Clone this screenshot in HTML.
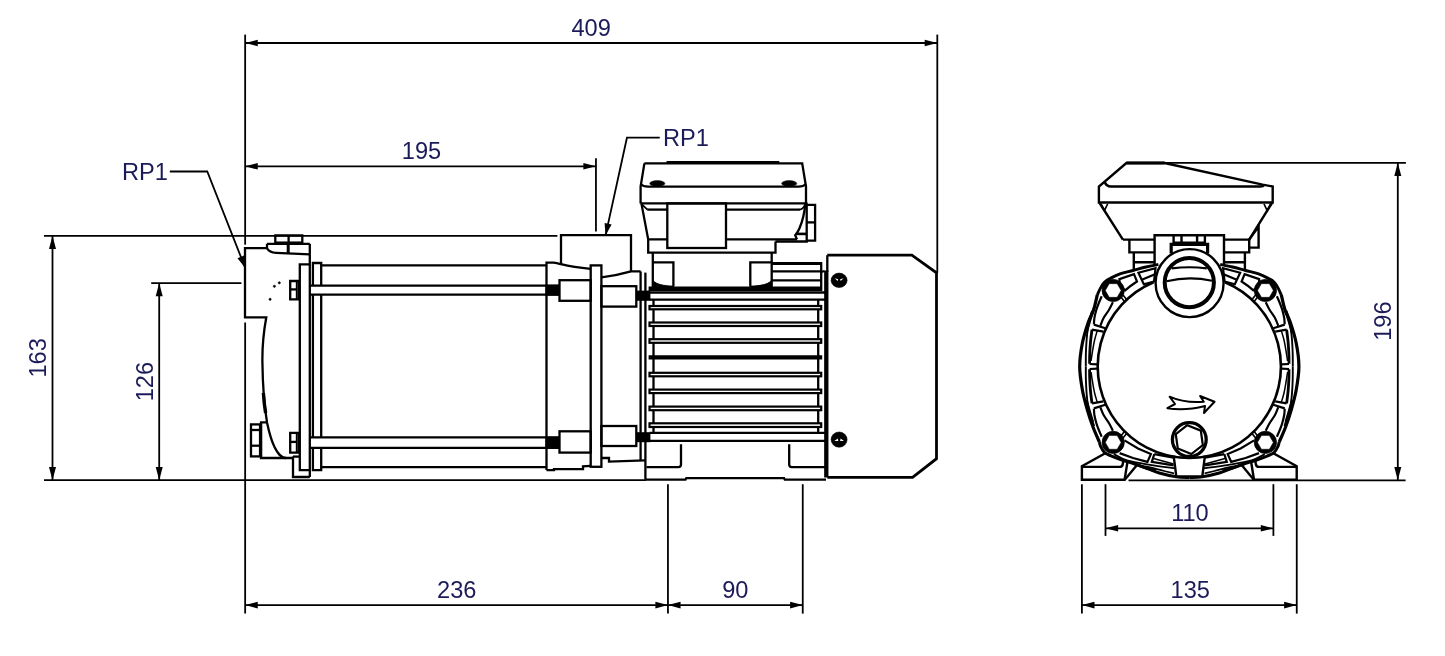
<!DOCTYPE html>
<html lang="en">
<head>
<meta charset="utf-8">
<title>Pump dimensional drawing</title>
<style>
html,body{margin:0;padding:0;background:#fff;}
body{width:1445px;height:656px;overflow:hidden;font-family:"Liberation Sans",sans-serif;}
svg{display:block;will-change:transform;}
svg line,svg path,svg rect,svg circle,svg ellipse,svg polyline{stroke:#000;fill:none;stroke-linecap:butt;stroke-linejoin:miter;}
svg .ah{fill:#000;stroke:none;}
svg .rj{stroke-linejoin:round;stroke-linecap:round;}
svg .bk{fill:#000;}
svg .wh{fill:#fff;}
svg text{font-family:"Liberation Sans",sans-serif;font-size:23.6px;fill:#1c1b5a;stroke:none;}
</style>
</head>
<body>
<svg width="1445" height="656" viewBox="0 0 1445 656">
<rect x="0" y="0" width="1445" height="656" style="fill:#fff;stroke:none"/>
<g id="dimensions" stroke-width="1.8">
<line x1="245.15" y1="34.6" x2="245.15" y2="244.7"/>
<line x1="937.3" y1="34.6" x2="937.3" y2="272.7"/>
<line x1="245.15" y1="43" x2="937.3" y2="43"/>
<polygon class="ah" points="245.15,43 257.75,39.7 257.75,46.3"/>
<polygon class="ah" points="937.3,43 924.7,46.3 924.7,39.7"/>
<text x="591.1" y="36.1" text-anchor="middle">409</text>
<line x1="245.15" y1="166.3" x2="595.95" y2="166.3"/>
<line x1="595.95" y1="158.3" x2="595.95" y2="231.6"/>
<polygon class="ah" points="245.15,166.3 257.75,163 257.75,169.6"/>
<polygon class="ah" points="595.95,166.3 583.35,169.6 583.35,163"/>
<text x="421.55" y="159.1" text-anchor="middle">195</text>
<line x1="245.15" y1="322.4" x2="245.15" y2="613.6"/>
<line x1="667.95" y1="484.2" x2="667.95" y2="613.6"/>
<line x1="802.75" y1="484.2" x2="802.75" y2="613.6"/>
<line x1="245.15" y1="605.1" x2="802.75" y2="605.1"/>
<polygon class="ah" points="245.15,605.1 257.75,601.8 257.75,608.4"/>
<polygon class="ah" points="667.95,605.1 655.35,608.4 655.35,601.8"/>
<polygon class="ah" points="667.95,605.1 680.55,601.8 680.55,608.4"/>
<polygon class="ah" points="802.75,605.1 790.15,608.4 790.15,601.8"/>
<text x="456.75" y="598.4" text-anchor="middle">236</text>
<text x="735.25" y="598.4" text-anchor="middle">90</text>
<line x1="1105.5" y1="484.2" x2="1105.5" y2="535.9"/>
<line x1="1273.4" y1="484.2" x2="1273.4" y2="535.9"/>
<line x1="1105.5" y1="528.3" x2="1273.4" y2="528.3"/>
<polygon class="ah" points="1105.5,528.3 1118.1,525 1118.1,531.6"/>
<polygon class="ah" points="1273.4,528.3 1260.8,531.6 1260.8,525"/>
<text x="1189.95" y="521.4" text-anchor="middle">110</text>
<line x1="1081.9" y1="484.2" x2="1081.9" y2="613.6"/>
<line x1="1296.75" y1="484.2" x2="1296.75" y2="613.6"/>
<line x1="1081.9" y1="605.1" x2="1296.75" y2="605.1"/>
<polygon class="ah" points="1081.9,605.1 1094.5,601.8 1094.5,608.4"/>
<polygon class="ah" points="1296.75,605.1 1284.15,608.4 1284.15,601.8"/>
<text x="1190.25" y="598.4" text-anchor="middle">135</text>
<line x1="44" y1="235.8" x2="557.4" y2="235.8"/>
<line x1="44" y1="480.2" x2="646" y2="480.2"/>
<line x1="52.5" y1="235.8" x2="52.5" y2="480.2"/>
<polygon class="ah" points="52.5,235.8 56,249 49,249"/>
<polygon class="ah" points="52.5,480.2 49,467 56,467"/>
<text x="45.95" y="357.9" text-anchor="middle" transform="rotate(-90 45.95 357.9)">163</text>
<line x1="151.2" y1="283.1" x2="241.4" y2="283.1"/>
<line x1="159.2" y1="283.1" x2="159.2" y2="480.2"/>
<polygon class="ah" points="159.2,283.1 162.7,296.3 155.7,296.3"/>
<polygon class="ah" points="159.2,480.2 155.7,467 162.7,467"/>
<text x="152.65" y="381.6" text-anchor="middle" transform="rotate(-90 152.65 381.6)">126</text>
<line x1="1164" y1="162.8" x2="1405.9" y2="162.8"/>
<line x1="1128.5" y1="480.3" x2="1405.6" y2="480.3"/>
<line x1="1397.8" y1="162.8" x2="1397.8" y2="480.3"/>
<polygon class="ah" points="1397.8,162.8 1401.3,176 1394.3,176"/>
<polygon class="ah" points="1397.8,480.3 1394.3,467.1 1401.3,467.1"/>
<text x="1391.45" y="321.1" text-anchor="middle" transform="rotate(-90 1391.45 321.1)">196</text>
<text x="144.85" y="179.5" text-anchor="middle">RP1</text>
<path d="M169.85 171.5 L207.25 171.5 L245.3 268.1"/>
<polygon class="ah" points="245.3,268.1 237.47,258.32 244.14,255.62"/>
<text x="685.95" y="145.7" text-anchor="middle">RP1</text>
<path d="M659.75 137.7 L626.95 137.7 L605.55 235.4"/>
<polygon class="ah" points="605.55,235.4 604.6,222.91 611.63,224.45"/>
</g>
<g id="side-view" stroke-width="2.3">
<path d="M267 248.2 L245 248.2 L245 317.3 L266.3 317.3 C263.6 332 262.2 347 262.4 362 C262.6 380 263.5 401 267.1 423 C269.5 434 271.5 441 274.5 447 C277.5 453 280.5 458 286 458 L293 458"/>
<path d="M263.4 393 C263.8 400 264.6 407 265.6 413" stroke-width="3.4"/>
<rect x="275.3" y="235.4" width="27" height="7.2"/>
<line x1="288.6" y1="235.2" x2="288.6" y2="242.6"/>
<path d="M267 243.8 L309.8 243.8 M267 243.8 L267 248.2 C268.5 251 271.5 252.6 276.2 252.9 L309.8 254.3"/>
<line x1="288.2" y1="243.8" x2="288.2" y2="253.5" stroke-width="3"/>
<line x1="309.8" y1="243.8" x2="309.8" y2="477"/>
<rect x="251" y="424.4" width="10" height="32"/>
<line x1="251" y1="430" x2="261" y2="430"/>
<line x1="251" y1="445.7" x2="261" y2="445.7"/>
<path d="M266.3 422.3 L261 422.3 L261 458 L286 458"/>
<line x1="260.2" y1="424" x2="260.2" y2="457" stroke-width="2.6"/>
<path d="M309.8 264.3 L299.8 264.3 L299.8 470.2 L309.8 470.2"/>
<path d="M312.9 470.2 L312.9 263 L321.2 263 L321.2 470.2 Z"/>
<path d="M293 456.6 L293 477 L309.8 477"/>
<line x1="293" y1="456.6" x2="299.8" y2="456.6"/>
<path d="M299.8 281 L290.2 281 L290.2 299.3 L299.8 299.3"/>
<line x1="296.6" y1="281" x2="296.6" y2="299.3" stroke-width="1.6"/>
<line x1="290.2" y1="289.42" x2="296.6" y2="289.42"/>
<line x1="298.6" y1="281" x2="298.6" y2="299.3" stroke-width="2.6"/>
<path d="M299.8 432.8 L290.2 432.8 L290.2 452.6 L299.8 452.6"/>
<line x1="296.6" y1="432.8" x2="296.6" y2="452.6" stroke-width="1.6"/>
<line x1="290.2" y1="441.91" x2="296.6" y2="441.91"/>
<line x1="298.6" y1="432.8" x2="298.6" y2="452.6" stroke-width="2.6"/>
<rect x="311" y="285.6" width="235.5" height="9.1" style="fill:#fff;stroke:none"/>
<line x1="309.8" y1="285.6" x2="546.5" y2="285.6"/>
<line x1="309.8" y1="294.7" x2="546.5" y2="294.7"/>
<rect x="545.4" y="284.4" width="14.1" height="11.5" style="fill:#000;stroke:none"/>
<rect x="311" y="437.4" width="235.5" height="10.4" style="fill:#fff;stroke:none"/>
<line x1="309.8" y1="437.4" x2="546.5" y2="437.4"/>
<line x1="309.8" y1="447.8" x2="546.5" y2="447.8"/>
<rect x="545.4" y="436.2" width="14.1" height="12.8" style="fill:#000;stroke:none"/>
<line x1="321.2" y1="265.4" x2="546.5" y2="265.4"/>
<line x1="321.2" y1="467.1" x2="546.5" y2="467.1"/>
<circle cx="274.4" cy="286.3" r="1.1" class="bk" stroke-width="0.6"/>
<circle cx="279.3" cy="282.8" r="1.1" class="bk" stroke-width="0.6"/>
<circle cx="270.1" cy="299.3" r="1.1" class="bk" stroke-width="0.6"/>
<path d="M546.5 470.1 L546.5 262.7 L553.5 262.7 C557 262.9 559 263.6 561 264.2 C570 266.6 580 268 590.7 268.8"/>
<path d="M561 264 L561 235.2 L631 235.2 L631 271.4"/>
<rect x="590.7" y="265.4" width="10.7" height="201.4"/>
<path d="M601.4 277.3 C612 276.2 622 274 631 271.4 L640.6 271.4"/>
<path d="M546.5 470.1 L554 470.1 L554 469.2 L583 469.2 L583 466.3 L590.7 465.9"/>
<path d="M601.4 458 L609 458 L609 461.6 L645.2 460.3"/>
<rect x="559.5" y="280.2" width="31.2" height="20.6"/>
<rect x="559.5" y="431.3" width="31.2" height="21.3"/>
<rect x="601.4" y="286.2" width="34.9" height="20.4"/>
<rect x="601.4" y="426" width="34.9" height="20"/>
<rect x="636" y="290.6" width="14.4" height="10.2" style="fill:#000;stroke:none"/>
<rect x="636" y="432.2" width="14.4" height="10" style="fill:#000;stroke:none"/>
<line x1="640.6" y1="271.4" x2="640.6" y2="460.4"/>
<line x1="645.4" y1="272.6" x2="645.4" y2="479.6"/>
<line x1="649.7" y1="292.5" x2="825.8" y2="292.5"/>
<line x1="649.7" y1="299.6" x2="825.8" y2="299.6"/>
<line x1="649.7" y1="432.9" x2="825.8" y2="432.9"/>
<line x1="649.7" y1="440.9" x2="825.8" y2="440.9"/>
<line x1="653.5" y1="299.6" x2="653.5" y2="432.9"/>
<line x1="818.2" y1="299.6" x2="818.2" y2="432.9"/>
<rect x="649.5" y="306" width="171.7" height="3.3" stroke-width="2.2" style="fill:#fff"/>
<rect x="649.5" y="322.5" width="171.7" height="3.5" stroke-width="2.2" style="fill:#fff"/>
<rect x="649.5" y="339.2" width="171.7" height="3.6" stroke-width="2.2" style="fill:#fff"/>
<line x1="648.6" y1="357.3" x2="822.2" y2="357.3" stroke-width="4.2"/>
<rect x="649.5" y="372.8" width="171.7" height="3.5" stroke-width="2.2" style="fill:#fff"/>
<rect x="649.5" y="389.6" width="171.7" height="3.5" stroke-width="2.2" style="fill:#fff"/>
<rect x="649.5" y="406.6" width="171.7" height="3.6" stroke-width="2.2" style="fill:#fff"/>
<rect x="649.5" y="423.3" width="171.7" height="3.7" stroke-width="2.2" style="fill:#fff"/>
<line x1="826.3" y1="270.6" x2="826.3" y2="477.4" stroke-width="4.3"/>
<line x1="648.6" y1="288.7" x2="822" y2="288.7" stroke-width="4.4"/>
<line x1="771.7" y1="263.6" x2="822" y2="263.6" stroke-width="3"/>
<line x1="771.7" y1="271.3" x2="821.2" y2="271.3"/>
<line x1="771.7" y1="280.4" x2="821.2" y2="280.4"/>
<line x1="821.2" y1="262.3" x2="821.2" y2="290.8"/>
<path d="M821.2 272 L824.6 271 "/>
<path d="M645.9 479.6 L685.5 479.6 L686.3 478.2 L784 478.2 L784.8 479.6 L826 479.6"/>
<path d="M646.5 467.1 L678.5 467.1 Q681 467.1 681 464.6 L681 444.2"/>
<path d="M825 467.1 L791.7 467.1 Q789.2 467.1 789.2 464.6 L789.2 444.2"/>
<path d="M827.3 255.2 L911.9 255.2 L936.5 272.8 L936.5 458.7 L912.6 477.4 L827.3 477.4" stroke-width="2.8"/>
<line x1="827.3" y1="255.2" x2="827.3" y2="272"/>
<ellipse cx="839.1" cy="280.3" rx="8" ry="7.2" stroke-width="0.6" style="fill:#000"/>
<path d="M834.7 278.3 L838.2 279.2 L837.6 281 Z M843.6 278.3 L840.1 279.2 L840.7 281 Z" style="fill:#fff;stroke:none"/>
<ellipse cx="839.1" cy="439.6" rx="8" ry="7.6" stroke-width="0.6" style="fill:#000"/>
<path d="M834.4 440.9 L837.8 438.4 L838.3 440.9 Z M844 440.9 L840.6 438.4 L840.1 440.9 Z" style="fill:#fff;stroke:none"/>
<path d="M644.4 163.4 L802.2 163.4 L806 186.6 L806 203.4 M644.4 163.4 L640.6 186.6 L640.6 203.4"/>
<line x1="666.5" y1="162.6" x2="779.3" y2="162.6" stroke-width="3"/>
<path d="M640.6 184 C642.5 186 645 186.6 648 186.6 L798.6 186.6 C801.6 186.6 804 186 806 184"/>
<ellipse cx="657.3" cy="183.5" rx="7.6" ry="2.9" stroke-width="0.5" style="fill:#000"/>
<ellipse cx="789.2" cy="183.5" rx="7.6" ry="2.9" stroke-width="0.5" style="fill:#000"/>
<line x1="640.6" y1="203.4" x2="807.5" y2="203.4"/>
<path d="M641.4 203.4 L648.2 239.4 L667.3 239.4"/>
<path d="M641.6 204.2 L647.4 209.6" stroke-width="1.8"/>
<line x1="647.2" y1="209.6" x2="667.3" y2="209.6"/>
<line x1="726" y1="209.6" x2="800" y2="209.6"/>
<path d="M805.2 204.2 Q803.6 208.6 799.8 209.6" stroke-width="1.8"/>
<rect x="667.3" y="203.4" width="58.7" height="44.6"/>
<path d="M726 239.4 L797 239.4"/>
<path d="M805.4 203.4 C804.6 212 802.6 221 799.6 228 C798.4 231 797 233.4 795.2 235.2 L797 239.4"/>
<line x1="796.5" y1="233.9" x2="806.7" y2="233.9" stroke-width="2.6"/>
<path d="M806.7 203.4 L806.7 241.5 L775.5 241.5"/>
<path d="M806.7 204.9 L815.1 204.9 L815.1 240.7 L806.7 240.7"/>
<line x1="806.7" y1="222.4" x2="815.1" y2="222.4"/>
<path d="M648.2 239.4 L648.2 252.6 L775.5 252.6 L775.5 241.5"/>
<line x1="652.8" y1="252.6" x2="652.8" y2="287"/>
<line x1="771.7" y1="252.6" x2="771.7" y2="287"/>
<path d="M652.8 262.3 L673.4 262.3 L673.4 286.4"/>
<path d="M771.7 262.3 L750.3 262.3 L750.3 286.4"/>
<path d="M653.4 281 C657 284.4 663 285.8 673.4 286.2 L673.4 287.4 L653.4 287.4 Z" stroke-width="1" style="fill:#000"/>
<path d="M771.1 281 C767.5 284.4 761.5 285.8 750.3 286.2 L750.3 287.4 L771.1 287.4 Z" stroke-width="1" style="fill:#000"/>
</g>
<g id="front-view" stroke-width="2.4">
<path d="M1153.51 282.18 A91.6 91.6 0 1 0 1225.09 282.18" stroke-width="2.6"/>
<path d="M1097.3 294.9 C1096.68 297.42 1095.08 305.48 1093.6 310 C1092.12 314.52 1090.27 316.5 1088.4 322 C1086.53 327.5 1083.85 335.58 1082.4 343 C1080.95 350.42 1079.7 358.67 1079.7 366.5 C1079.7 374.33 1081.12 382.75 1082.4 390 C1083.68 397.25 1085.63 403.83 1087.4 410 C1089.17 416.17 1091 421.67 1093 427 C1095 432.33 1098.33 439.5 1099.4 442" stroke-width="3.2"/>
<path d="M1094.2 307 C1093.57 308.83 1091.45 314.5 1090.4 318 C1089.35 321.5 1088.53 324.33 1087.9 328 C1087.27 331.67 1086.93 335.83 1086.6 340 C1086.27 344.17 1086.03 348.58 1085.9 353 C1085.77 357.42 1085.82 364.25 1085.8 366.5" stroke-width="1.9"/>
<path d="M1092.6 311 C1092 313 1090.07 319.33 1089 323 C1087.93 326.67 1086.67 331.33 1086.2 333" stroke-width="3"/>
<path d="M1094.2 426 C1093.57 424.17 1091.45 418.5 1090.4 415 C1089.35 411.5 1088.53 408.67 1087.9 405 C1087.27 401.33 1086.93 397.17 1086.6 393 C1086.27 388.83 1086.03 384.42 1085.9 380 C1085.77 375.58 1085.82 368.75 1085.8 366.5" stroke-width="1.9"/>
<path d="M1092.6 422 C1092 420 1090.07 413.67 1089 410 C1087.93 406.33 1086.67 401.67 1086.2 400" stroke-width="3"/>
<path d="M1097.3 295 C1097.78 293.93 1099.02 290.73 1100.2 288.6 C1101.38 286.47 1102.67 283.93 1104.4 282.2 C1106.13 280.47 1108 279.58 1110.6 278.2 C1113.2 276.82 1116.27 275.18 1120 273.9 C1123.73 272.62 1128.67 271.65 1133 270.5 C1137.33 269.35 1141.77 268.02 1146 267 C1150.23 265.98 1156.33 264.83 1158.4 264.4" stroke-width="2.9"/>
<path d="M1099.4 442 C1099.6 442.73 1099.73 444.63 1100.6 446.4 C1101.47 448.17 1102.87 451.03 1104.6 452.6 C1106.33 454.17 1108.1 454.57 1111 455.8 C1113.9 457.03 1117.62 458.5 1122 460 C1126.38 461.5 1132.82 463.27 1137.3 464.8 C1141.78 466.33 1145.23 467.83 1148.9 469.2 C1152.57 470.57 1154.73 471.73 1159.3 473 C1163.87 474.27 1171.3 476.03 1176.3 476.8 C1181.3 477.57 1187.13 477.47 1189.3 477.6" stroke-width="3"/>
<path d="M1131 462.4 C1132.5 462.92 1136.83 464.67 1140 465.5 C1143.17 466.33 1145.98 466.48 1150 467.4 C1154.02 468.32 1160.1 470 1164.1 471 C1168.1 472 1172.35 473 1174 473.4" stroke-width="1.7"/>
<path d="M1134 463.6 C1135.83 464.27 1141.33 466.37 1145 467.6 C1148.67 468.83 1154.17 470.43 1156 471" stroke-width="3"/>
<path d="M1113.8 454.1 C1116 455.15 1120.97 458.62 1127 460.4 C1133.03 462.18 1142 463.5 1150 464.8 C1158 466.1 1170.83 467.63 1175 468.2" stroke-width="1.8"/>
<path d="M1101.7 296.3 C1101.15 297.58 1099.3 301.72 1098.4 304 C1097.5 306.28 1096.97 307.67 1096.3 310 C1095.63 312.33 1094.8 315.6 1094.4 318 C1094 320.4 1093.98 323.33 1093.9 324.4" stroke-width="2.2"/>
<path d="M1093.9 324.6 L1105.3 328.3" stroke-width="2.2"/>
<path d="M1112.9 302.2 C1112.23 303.5 1110.45 307.37 1108.9 310 C1107.35 312.63 1105.03 315.37 1103.6 318 C1102.17 320.63 1100.85 324.5 1100.3 325.8" stroke-width="2.2"/>
<path d="M1103.4 331.7 L1092 329.6" stroke-width="2.2"/>
<path d="M1092 329.6 C1091.75 331.67 1090.88 337.77 1090.5 342 C1090.12 346.23 1089.85 351.37 1089.7 355 C1089.55 358.63 1089.62 362.33 1089.6 363.8" stroke-width="2.8"/>
<path d="M1089.6 364 L1097.7 364.4" stroke-width="2.2"/>
<path d="M1097.3 330.6 C1096.85 332.17 1095.42 336.43 1094.6 340 C1093.78 343.57 1093 348.5 1092.4 352 C1091.8 355.5 1091.23 359.5 1091 361" stroke-width="1.5"/>
<path d="M1120.6 296.6 L1124.4 301.4" stroke-width="1.6"/>
<path d="M1123 295 L1126.6 299.6" stroke-width="1.6"/>
<path d="M1101.7 436.7 C1101.15 435.42 1099.3 431.28 1098.4 429 C1097.5 426.72 1096.97 425.33 1096.3 423 C1095.63 420.67 1094.8 417.4 1094.4 415 C1094 412.6 1093.98 409.67 1093.9 408.6" stroke-width="2.2"/>
<path d="M1093.9 408.4 L1105.3 404.7" stroke-width="2.2"/>
<path d="M1112.9 430.8 C1112.23 429.5 1110.45 425.63 1108.9 423 C1107.35 420.37 1105.03 417.63 1103.6 415 C1102.17 412.37 1100.85 408.5 1100.3 407.2" stroke-width="2.2"/>
<path d="M1103.4 401.3 L1092 403.4" stroke-width="2.2"/>
<path d="M1092 403.4 C1091.75 401.33 1090.88 395.23 1090.5 391 C1090.12 386.77 1089.85 381.63 1089.7 378 C1089.55 374.37 1089.62 370.67 1089.6 369.2" stroke-width="2.8"/>
<path d="M1089.6 369 L1097.7 368.6" stroke-width="2.2"/>
<path d="M1097.3 402.4 C1096.85 400.83 1095.42 396.57 1094.6 393 C1093.78 389.43 1093 384.5 1092.4 381 C1091.8 377.5 1091.23 373.5 1091 372" stroke-width="1.5"/>
<path d="M1120.6 436.4 L1124.4 431.6" stroke-width="1.6"/>
<path d="M1123 438 L1126.6 433.4" stroke-width="1.6"/>
<path d="M1119.4 279.1 L1134 274.2 L1137 281.5 A99.7 99.7 0 0 0 1125.2 290.3 A12.6 12.6 0 0 1 1119.4 279.1 Z" stroke-width="2.2"/>
<path d="M1138.4 272.7 L1155.5 268.3 L1154 281.5 L1143.8 284.2 Z" stroke-width="2.2"/>
<path d="M1141.8 279.7 L1155 274.2" stroke-width="2.2"/>
<path d="M1124.5 440.4 L1138 448.4 L1150.9 454.1 L1147.4 461.9 L1133 458 L1119.6 453.1" stroke-width="2.2"/>
<path d="M1154.3 454.1 L1173.6 457.6" stroke-width="2.2"/>
<path d="M1154.3 454.1 L1151.8 461.9 L1173.6 465.3" stroke-width="2.2"/>
<path d="M1153.6 458.5 L1173.6 464" stroke-width="1.5"/>
<path d="M1281.3 294.9 C1281.92 297.42 1283.52 305.48 1285 310 C1286.48 314.52 1288.33 316.5 1290.2 322 C1292.07 327.5 1294.75 335.58 1296.2 343 C1297.65 350.42 1298.9 358.67 1298.9 366.5 C1298.9 374.33 1297.48 382.75 1296.2 390 C1294.92 397.25 1292.97 403.83 1291.2 410 C1289.43 416.17 1287.6 421.67 1285.6 427 C1283.6 432.33 1280.27 439.5 1279.2 442" stroke-width="3.2"/>
<path d="M1284.4 307 C1285.03 308.83 1287.15 314.5 1288.2 318 C1289.25 321.5 1290.07 324.33 1290.7 328 C1291.33 331.67 1291.67 335.83 1292 340 C1292.33 344.17 1292.57 348.58 1292.7 353 C1292.83 357.42 1292.78 364.25 1292.8 366.5" stroke-width="1.9"/>
<path d="M1286 311 C1286.6 313 1288.53 319.33 1289.6 323 C1290.67 326.67 1291.93 331.33 1292.4 333" stroke-width="3"/>
<path d="M1284.4 426 C1285.03 424.17 1287.15 418.5 1288.2 415 C1289.25 411.5 1290.07 408.67 1290.7 405 C1291.33 401.33 1291.67 397.17 1292 393 C1292.33 388.83 1292.57 384.42 1292.7 380 C1292.83 375.58 1292.78 368.75 1292.8 366.5" stroke-width="1.9"/>
<path d="M1286 422 C1286.6 420 1288.53 413.67 1289.6 410 C1290.67 406.33 1291.93 401.67 1292.4 400" stroke-width="3"/>
<path d="M1281.3 295 C1280.82 293.93 1279.58 290.73 1278.4 288.6 C1277.22 286.47 1275.93 283.93 1274.2 282.2 C1272.47 280.47 1270.6 279.58 1268 278.2 C1265.4 276.82 1262.33 275.18 1258.6 273.9 C1254.87 272.62 1249.93 271.65 1245.6 270.5 C1241.27 269.35 1236.83 268.02 1232.6 267 C1228.37 265.98 1222.27 264.83 1220.2 264.4" stroke-width="2.9"/>
<path d="M1279.2 442 C1279 442.73 1278.87 444.63 1278 446.4 C1277.13 448.17 1275.73 451.03 1274 452.6 C1272.27 454.17 1270.5 454.57 1267.6 455.8 C1264.7 457.03 1260.98 458.5 1256.6 460 C1252.22 461.5 1245.78 463.27 1241.3 464.8 C1236.82 466.33 1233.37 467.83 1229.7 469.2 C1226.03 470.57 1223.87 471.73 1219.3 473 C1214.73 474.27 1207.3 476.03 1202.3 476.8 C1197.3 477.57 1191.47 477.47 1189.3 477.6" stroke-width="3"/>
<path d="M1247.6 462.4 C1246.1 462.92 1241.77 464.67 1238.6 465.5 C1235.43 466.33 1232.62 466.48 1228.6 467.4 C1224.58 468.32 1218.5 470 1214.5 471 C1210.5 472 1206.25 473 1204.6 473.4" stroke-width="1.7"/>
<path d="M1244.6 463.6 C1242.77 464.27 1237.27 466.37 1233.6 467.6 C1229.93 468.83 1224.43 470.43 1222.6 471" stroke-width="3"/>
<path d="M1264.8 454.1 C1262.6 455.15 1257.63 458.62 1251.6 460.4 C1245.57 462.18 1236.6 463.5 1228.6 464.8 C1220.6 466.1 1207.77 467.63 1203.6 468.2" stroke-width="1.8"/>
<path d="M1276.9 296.3 C1277.45 297.58 1279.3 301.72 1280.2 304 C1281.1 306.28 1281.63 307.67 1282.3 310 C1282.97 312.33 1283.8 315.6 1284.2 318 C1284.6 320.4 1284.62 323.33 1284.7 324.4" stroke-width="2.2"/>
<path d="M1284.7 324.6 L1273.3 328.3" stroke-width="2.2"/>
<path d="M1265.7 302.2 C1266.37 303.5 1268.15 307.37 1269.7 310 C1271.25 312.63 1273.57 315.37 1275 318 C1276.43 320.63 1277.75 324.5 1278.3 325.8" stroke-width="2.2"/>
<path d="M1275.2 331.7 L1286.6 329.6" stroke-width="2.2"/>
<path d="M1286.6 329.6 C1286.85 331.67 1287.72 337.77 1288.1 342 C1288.48 346.23 1288.75 351.37 1288.9 355 C1289.05 358.63 1288.98 362.33 1289 363.8" stroke-width="2.8"/>
<path d="M1289 364 L1280.9 364.4" stroke-width="2.2"/>
<path d="M1281.3 330.6 C1281.75 332.17 1283.18 336.43 1284 340 C1284.82 343.57 1285.6 348.5 1286.2 352 C1286.8 355.5 1287.37 359.5 1287.6 361" stroke-width="1.5"/>
<path d="M1258 296.6 L1254.2 301.4" stroke-width="1.6"/>
<path d="M1255.6 295 L1252 299.6" stroke-width="1.6"/>
<path d="M1276.9 436.7 C1277.45 435.42 1279.3 431.28 1280.2 429 C1281.1 426.72 1281.63 425.33 1282.3 423 C1282.97 420.67 1283.8 417.4 1284.2 415 C1284.6 412.6 1284.62 409.67 1284.7 408.6" stroke-width="2.2"/>
<path d="M1284.7 408.4 L1273.3 404.7" stroke-width="2.2"/>
<path d="M1265.7 430.8 C1266.37 429.5 1268.15 425.63 1269.7 423 C1271.25 420.37 1273.57 417.63 1275 415 C1276.43 412.37 1277.75 408.5 1278.3 407.2" stroke-width="2.2"/>
<path d="M1275.2 401.3 L1286.6 403.4" stroke-width="2.2"/>
<path d="M1286.6 403.4 C1286.85 401.33 1287.72 395.23 1288.1 391 C1288.48 386.77 1288.75 381.63 1288.9 378 C1289.05 374.37 1288.98 370.67 1289 369.2" stroke-width="2.8"/>
<path d="M1289 369 L1280.9 368.6" stroke-width="2.2"/>
<path d="M1281.3 402.4 C1281.75 400.83 1283.18 396.57 1284 393 C1284.82 389.43 1285.6 384.5 1286.2 381 C1286.8 377.5 1287.37 373.5 1287.6 372" stroke-width="1.5"/>
<path d="M1258 436.4 L1254.2 431.6" stroke-width="1.6"/>
<path d="M1255.6 438 L1252 433.4" stroke-width="1.6"/>
<path d="M1259.2 279.1 L1244.6 274.2 L1241.6 281.5 A99.7 99.7 0 0 1 1253.4 290.3 A12.6 12.6 0 0 0 1259.2 279.1 Z" stroke-width="2.2"/>
<path d="M1240.2 272.7 L1223.1 268.3 L1224.6 281.5 L1234.8 284.2 Z" stroke-width="2.2"/>
<path d="M1236.8 279.7 L1223.6 274.2" stroke-width="2.2"/>
<path d="M1254.1 440.4 L1240.6 448.4 L1227.7 454.1 L1231.2 461.9 L1245.6 458 L1259 453.1" stroke-width="2.2"/>
<path d="M1224.3 454.1 L1205 457.6" stroke-width="2.2"/>
<path d="M1224.3 454.1 L1226.8 461.9 L1205 465.3" stroke-width="2.2"/>
<path d="M1225 458.5 L1205 464" stroke-width="1.5"/>
<circle cx="1113.2" cy="290.5" r="11.1" stroke-width="0.8" style="fill:#000"/>
<path d="M1121.1 290.5 L1117.15 283.66 L1109.25 283.66 L1105.3 290.5 L1109.25 297.34 L1117.15 297.34 Z" stroke-width="0.5" style="fill:#fff"/>
<circle cx="1265.4" cy="290.5" r="11.1" stroke-width="0.8" style="fill:#000"/>
<path d="M1273.3 290.5 L1269.35 283.66 L1261.45 283.66 L1257.5 290.5 L1261.45 297.34 L1269.35 297.34 Z" stroke-width="0.5" style="fill:#fff"/>
<circle cx="1113.2" cy="442.4" r="11.1" stroke-width="0.8" style="fill:#000"/>
<path d="M1121.1 442.4 L1117.15 435.56 L1109.25 435.56 L1105.3 442.4 L1109.25 449.24 L1117.15 449.24 Z" stroke-width="0.5" style="fill:#fff"/>
<circle cx="1265.4" cy="442.4" r="11.1" stroke-width="0.8" style="fill:#000"/>
<path d="M1273.3 442.4 L1269.35 435.56 L1261.45 435.56 L1257.5 442.4 L1261.45 449.24 L1269.35 449.24 Z" stroke-width="0.5" style="fill:#fff"/>
<path d="M1173.9 457.6 L1176.3 476.4 L1202.3 476.4 L1204.7 457.6 Z" style="fill:#fff;stroke:none"/>
<path d="M1173.9 457.6 L1176.3 476.4 L1202.3 476.4 L1204.7 457.6"/>
<path d="M1170.26 456.1 A91.6 91.6 0 0 0 1208.34 456.1"/>
<circle cx="1189.3" cy="439.6" r="16.9" stroke-width="3.3" style="fill:#fff"/>
<path d="M1187.27 425.14 L1175.76 434.13 L1177.8 448.59 L1191.33 454.06 L1202.84 445.07 L1200.8 430.61 Z" stroke-width="2.2"/>
<path d="M1106.2 452.7 L1081.9 466.2 L1081.9 479.8 L1124.6 479.8 L1127.6 461"/>
<path d="M1081.9 466.9 L1119.6 466.9 Q1122.4 466.9 1122.8 464 L1123.4 460"/>
<path d="M1125 479.4 L1137.4 464.6"/>
<path d="M1272.4 452.7 L1296.7 466.2 L1296.7 479.8 L1254 479.8 L1251 461"/>
<path d="M1296.7 466.9 L1259 466.9 Q1256.2 466.9 1255.8 464 L1255.2 460"/>
<path d="M1253.6 479.4 L1241.2 464.6"/>
<path d="M1169.6 396.7 C1180 401.4 1191 402.8 1203.8 401.8 L1200.1 396 L1214.5 401.8 L1204 413 L1205 406 C1191 409.6 1179 410.2 1167.4 408.2 L1175 404 Z" stroke-width="2" class="rj"/>
<circle cx="1189.6" cy="283.1" r="34" stroke-width="2.4" style="fill:#fff"/>
<circle cx="1189.3" cy="282.6" r="24.6" stroke-width="4"/>
<path d="M1171.7 268.4 Q1189.3 266 1206.8 268.4" stroke-width="2.1"/>
<path d="M1166.6 281.2 Q1189.3 275.8 1211.9 280.8" stroke-width="2.1"/>
<path d="M1154.6 264.5 L1154.6 235.2 L1224 235.2 L1224 264.5"/>
<path d="M1173.6 235.2 L1173.6 242.8 L1204.9 242.8 L1204.9 235.2"/>
<line x1="1181.5" y1="235.2" x2="1181.5" y2="242.8"/>
<line x1="1197.1" y1="235.2" x2="1197.1" y2="242.8"/>
<path d="M1171.2 253.6 L1171.2 244.4 L1207.6 244.4 L1207.6 253.6" stroke-width="3.2"/>
<line x1="1173.6" y1="243.6" x2="1204.9" y2="243.6" stroke-width="2.6"/>
<path d="M1122.9 239.6 L1154.6 239.6 M1129.4 239.6 L1129.4 252.4 L1154.6 252.4 M1133.8 252.4 L1133.8 270.4 M1133.8 262.2 L1154.6 262.2"/>
<path d="M1249.2 239.6 L1224 239.6 M1249.2 239.6 L1249.2 252.4 L1224 252.4 M1244.9 252.4 L1244.9 270.4 M1244.9 262.2 L1224 262.2"/>
<path d="M1249.2 239.6 L1258.6 226.6 M1258.6 224.6 L1258.6 247.6 L1249.2 247.6"/>
<path d="M1099.6 203 L1122.9 239.6 M1272 203 L1249.2 239.6"/>
<path d="M1101 204 L1104.4 210.6 L1107.6 204 M1270.6 204 L1267.2 210.6 L1264 204" stroke-width="1.7"/>
<path d="M1098.9 202.5 L1098.9 186.5 L1126.4 163 L1164.6 163 L1262.6 184.6 L1272.7 186.5 L1272.7 202.5 Z"/>
<line x1="1126.4" y1="163" x2="1164.6" y2="163" stroke-width="2.8"/>
<path d="M1104.6 181.6 C1105.6 184.6 1107.6 186.5 1111 186.5 L1260 186.5 C1262.4 186.5 1263.6 185.8 1264 184.8" stroke-width="2.6"/>
</g>
</svg>
</body>
</html>
